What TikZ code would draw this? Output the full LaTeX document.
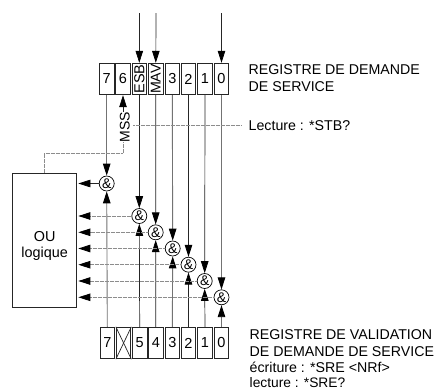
\documentclass[tikz,border=0pt]{standalone}
\usepackage{fontspec}
\setmainfont{Liberation Sans}
\usetikzlibrary{arrows.meta}
\tikzset{
  cell/.style={draw=black!85,line width=0.9pt,minimum width=14.6pt,minimum height=31.5pt,inner sep=0pt,font=\fontsize{14.5}{15}\selectfont},
  andg/.style={draw=black,circle,line width=0.7pt,minimum size=15pt,inner sep=0pt,font=\fontsize{14}{14}\selectfont},
  lbl/.style={anchor=base west,inner sep=0pt,font=\fontsize{14.2}{16}\selectfont},
  blk/.style={draw=black!85,line width=0.7pt},
  gry/.style={draw=black!55,line width=0.9pt},
  tip/.style={-{Triangle[length=12pt,width=7.5pt,color=black]}},
  hline/.style={draw=black!45,line width=0.8pt,dash pattern=on 1pt off 0.25pt,shorten >=2pt},
  thin gray/.style={draw=black!45,line width=0.8pt,dash pattern=on 1pt off 0.25pt}
}
\begin{document}
\begin{tikzpicture}[x=1pt,y=-1pt]
\clip (0,0) rectangle (437,389);
\fill[white] (0,0) rectangle (437,389);
% top register
\node[cell] (t7) at (106.7,79) {7};
\node[cell] (t6) at (123,79) {6};
\node[cell] (t5) at (139.3,79) {\fontsize{14.5}{15}\selectfont\rotatebox{90}{ESB}};
\node[cell] (t4) at (155.8,79) {\fontsize{14.2}{15}\selectfont\rotatebox{90}{MAV}};
\node[cell] (t3) at (172.3,79) {3};
\node[cell] (t2) at (188.5,79) {2};
\node[cell] (t1) at (205,79) {1};
\node[cell] (t0) at (221.5,79) {0};
% bottom register
\node[cell] (b7) at (107.3,343) {7};
\node[cell] (bx) at (123.6,343) {};
\node[cell] (b5) at (139.7,343) {5};
\node[cell] (b4) at (155.8,343) {4};
\node[cell] (b3) at (172.3,343) {3};
\node[cell] (b2) at (188.5,343) {2};
\node[cell] (b1) at (205,343) {1};
\node[cell] (b0) at (221.5,343) {0};
\draw[blk] (bx.north west) -- (bx.south east);
\draw[blk] (bx.north east) -- (bx.south west);
% OR block
\node[draw=black!85,line width=0.8pt,minimum width=63.5pt,minimum height=133.5pt,inner sep=0pt] (ou) at (44.2,240.2) {};
\node[inner sep=0pt,align=center,font=\fontsize{14.4}{16}\selectfont] (oul) at (44.7,245.5) {OU\\logique};
% AND gates
\node[andg] (a7) at (106.7,183.5) {\&};
\node[andg] (a5) at (139.3,216) {\&};
\node[andg] (a4) at (155.7,232.3) {\&};
\node[andg] (a3) at (172.7,248.5) {\&};
\node[andg] (a2) at (188.5,264.7) {\&};
\node[andg] (a1) at (204.7,281) {\&};
\node[andg] (a0) at (221.5,297.3) {\&};
% free ends
\coordinate (i5) at (139.3,13);
\coordinate (i4) at (156,13);
\coordinate (i0) at (221.5,13);
% texts
\node[lbl] (n1) at (248.5,74) {REGISTRE DE DEMANDE};
\node[lbl] (n2) at (248.5,91) {DE SERVICE};
\node[lbl] (lect) at (248.5,130) {Lecture : *STB?};
\node[lbl] (n3) at (249.5,339.5) {REGISTRE DE VALIDATION};
\node[lbl] (n4) at (249.5,356) {DE DEMANDE DE SERVICE};
\node[lbl] (n5) at (249.5,372.5) {écriture : *SRE <NRf>};
\node[lbl,font=\fontsize{13.8}{16}\selectfont] (n6) at (249.5,387.4) {lecture : *SRE?};
\node[inner sep=0pt,rotate=90,font=\fontsize{14}{14}\selectfont] (mss) at (124.7,127) {MSS};
% outside inputs
\draw[blk,tip] (i5) -- (t5.north);
\draw[blk,tip] (i4) -- (t4.north);
\draw[blk,tip] (i0) -- (t0.north);
% register to gate
\draw[gry,tip] (t7.south) -- (a7.north);
\draw[blk,tip] (t5.south) -- (a5.north);
\draw[blk,tip] (t4.south) -- (a4.north);
\draw[gry,tip] (t3.south) -- (a3.north);
\draw[blk,tip] (t2.south) -- (a2.north);
\draw[blk,tip] (t1.south) -- (a1.north);
\draw[gry,tip] (t0.south) -- (a0.north);
% enable to gate
\draw[gry,tip] (b7.north) -- (a7.south);
\draw[blk,tip] (b5.north) -- (a5.south);
\draw[blk,tip] (b4.north) -- (a4.south);
\draw[gry,tip] (b3.north) -- (a3.south);
\draw[blk,tip] (b2.north) -- (a2.south);
\draw[blk,tip] (b1.north) -- (a1.south);
\draw[gry,tip] (b0.north) -- (a0.south);
% gate to OR
\draw[blk,tip,shorten >=2pt] (a7.west) -- (a7.west -| ou.east);
\draw[hline,tip] (a5.west) -- (a5.west -| ou.east);
\draw[hline,tip] (a4.west) -- (a4.west -| ou.east);
\draw[hline,tip] (a3.west) -- (a3.west -| ou.east);
\draw[hline,tip] (a2.west) -- (a2.west -| ou.east);
\draw[hline,tip] (a1.west) -- (a1.west -| ou.east);
\draw[hline,tip] (a0.west) -- (a0.west -| ou.east);
% MSS
\draw[blk,tip] (mss.east -| t6.south) -- (t6.south);
\coordinate (kn) at (123,153.5);
\draw[thin gray] (mss.west -| kn) -- (kn) -- (kn -| ou.north) -- (ou.north);
\draw[thin gray] (133,125) -- (241.5,125);
\end{tikzpicture}
\end{document}
